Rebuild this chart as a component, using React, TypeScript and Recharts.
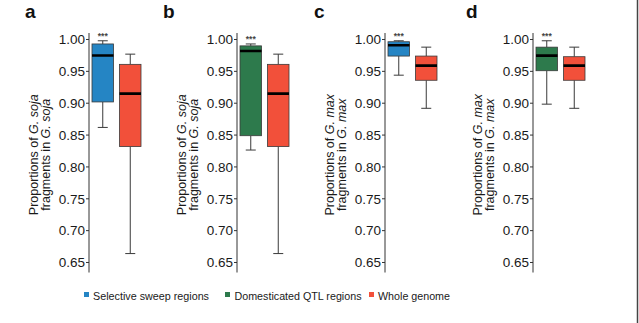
import React from "react";
import { ComposedChart, Bar, XAxis, YAxis } from "recharts";

// box stats: [min, q1, median, q3, max]
const groups = ["Selective sweep regions", "Domesticated QTL regions", "Whole genome"];
const panelLetters = ["a", "b", "c", "d"];
const panelSpecies = ["G. soja", "G. soja", "G. max", "G. max"];
const panelGroups = [
  ["Selective sweep regions", "Whole genome"],
  ["Domesticated QTL regions", "Whole genome"],
  ["Selective sweep regions", "Whole genome"],
  ["Domesticated QTL regions", "Whole genome"],
];
const statsA = [
  [0.862, 0.902, 0.975, 0.993, 0.998],
  [0.664, 0.832, 0.915, 0.961, 0.977],
];
const statsB = [
  [0.8265, 0.849, 0.982, 0.99, 0.993],
  [0.664, 0.832, 0.915, 0.961, 0.977],
];
const statsC = [
  [0.944, 0.974, 0.991, 0.9965, 0.998],
  [0.892, 0.936, 0.959, 0.974, 0.988],
];
const statsD = [
  [0.8985, 0.951, 0.9747, 0.988, 0.998],
  [0.892, 0.936, 0.959, 0.973, 0.988],
];
const panelStats = [statsA, statsB, statsC, statsD];
const significance = ["***", ""];
const yTicks = [0.65, 0.7, 0.75, 0.8, 0.85, 0.9, 0.95, 1.0];

const COLORS: Record<string, string> = {
  "Selective sweep regions": "#2585c4",
  "Domesticated QTL regions": "#2d7a4c",
  "Whole genome": "#f2503a",
};

const FONT = "'Liberation Sans', Arial, sans-serif";

const BoxShape = (props: any) => {
  const { x, y, width, height, payload } = props;
  const top = Math.min(y, y + height);
  const h = Math.abs(height);
  const span = payload.max - payload.min;
  const py = (v: number) => top + ((payload.max - v) / span) * h;
  const cx = x + width / 2;
  const cap = 5;
  const stroke = "#3a3a3a";
  return (
    <g>
      <line x1={cx} x2={cx} y1={py(payload.max)} y2={py(payload.q3)} stroke={stroke} strokeWidth={1} />
      <line x1={cx} x2={cx} y1={py(payload.q1)} y2={py(payload.min)} stroke={stroke} strokeWidth={1} />
      <line x1={cx - cap} x2={cx + cap} y1={py(payload.max)} y2={py(payload.max)} stroke={stroke} strokeWidth={1} />
      <line x1={cx - cap} x2={cx + cap} y1={py(payload.min)} y2={py(payload.min)} stroke={stroke} strokeWidth={1} />
      <rect
        x={x}
        y={py(payload.q3)}
        width={width}
        height={py(payload.q1) - py(payload.q3)}
        fill={COLORS[payload.group]}
        stroke={stroke}
        strokeWidth={0.8}
      />
      <line x1={x} x2={x + width} y1={py(payload.median)} y2={py(payload.median)} stroke="#000" strokeWidth={2.6} />
      {payload.sig ? (
        <text x={cx} y={py(payload.max) - 1.5} textAnchor="middle" fontSize={8.5} fontWeight="bold" fill="#444" fontFamily={FONT}>
          {payload.sig}
        </text>
      ) : null}
    </g>
  );
};

const AxisTitle = ({ viewBox, species }: any) => {
  const cy = viewBox.y + viewBox.height / 2 + 2;
  const x1 = 37.5;
  const x2 = 50;
  return (
    <g fontFamily={FONT} fontSize={12.5} fill="#1a1a1a">
      <text x={x1} y={cy} textAnchor="middle" transform={`rotate(-90, ${x1}, ${cy})`}>
        Proportions of <tspan fontStyle="italic">{species}</tspan>
      </text>
      <text x={x2} y={cy} textAnchor="middle" transform={`rotate(-90, ${x2}, ${cy})`}>
        fragments in <tspan fontStyle="italic">{species}</tspan>
      </text>
    </g>
  );
};

const Panel = ({ index }: { index: number }) => {
  const data = panelStats[index].map((s, i) => ({
    group: panelGroups[index][i],
    min: s[0],
    q1: s[1],
    median: s[2],
    q3: s[3],
    max: s[4],
    sig: significance[i],
  }));
  const species = panelSpecies[index];
  return (
    <div style={{ position: "absolute", left: index * 148, top: 0, width: 148, height: 290 }}>
      <ComposedChart width={148} height={290} data={data} margin={{ top: 33, right: 4, bottom: 17.5, left: 0 }}>
        <XAxis dataKey="group" tick={false} tickLine={false} height={0} axisLine={{ stroke: "#333" }} />
        <YAxis
          width={89}
          type="number"
          domain={[0.6343, 1.0102]}
          allowDataOverflow
          ticks={yTicks}
          tickFormatter={(v: number) => v.toFixed(2)}
          tick={{ fontSize: 13.5, fill: "#1a1a1a", fontFamily: FONT }}
          tickSize={3}
          tickMargin={1}
          axisLine={{ stroke: "#333" }}
          tickLine={{ stroke: "#333" }}
          label={(p: any) => <AxisTitle {...p} species={species} />}
        />
        <Bar
          dataKey={(d: any) => [d.min, d.max]}
          barSize={21.5}
          shape={<BoxShape />}
          isAnimationActive={false}
        />
      </ComposedChart>
      <div
        style={{
          position: "absolute",
          left: [25, 15, 18, 22][index],
          top: 1,
          fontFamily: FONT,
          fontWeight: "bold",
          fontSize: 19,
          color: "#111",
        }}
      >
        {panelLetters[index]}
      </div>
    </div>
  );
};

const legendX = [84, 225, 369];
const legendTextX = [93, 234.5, 378];
const legendTextW = [116, 127, 72];

export default function App() {
  return (
    <div style={{ position: "absolute", left: 0, top: 0, width: 639, height: 323, background: "#fff", overflow: "hidden" }}>
      {panelLetters.map((_, i) => (
        <Panel key={i} index={i} />
      ))}
      <svg style={{ position: "absolute", left: 0, top: 0 }} width={639} height={323}>
        {groups.map((g, i) => (
          <g key={g}>
            <rect x={legendX[i]} y={292} width={5} height={5} fill={COLORS[g]} />
            <text
              x={legendTextX[i]}
              y={299.5}
              fontSize={11.5}
              fontFamily={FONT}
              fill="#1a1a1a"
              textLength={legendTextW[i]}
              lengthAdjust="spacingAndGlyphs"
            >
              {g}
            </text>
          </g>
        ))}
        <line x1={637.5} x2={637.5} y1={0} y2={323} stroke="#444" strokeWidth={1.5} />
      </svg>
    </div>
  );
}
